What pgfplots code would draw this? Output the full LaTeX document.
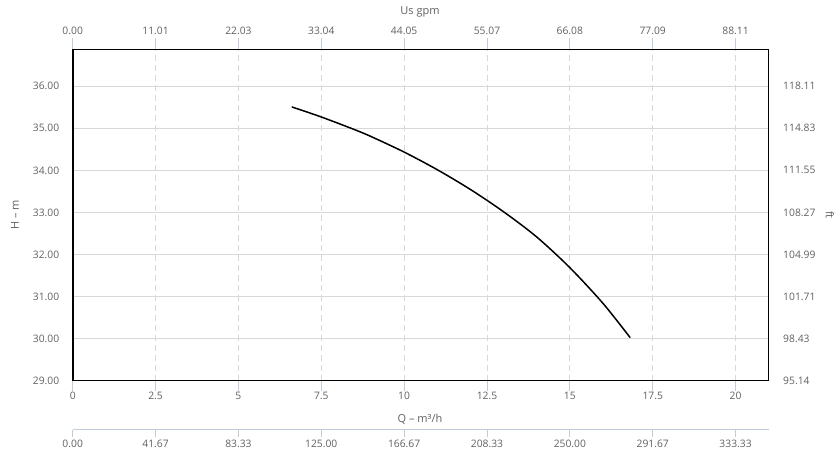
\documentclass[border=0pt]{standalone}
\usepackage{pgfplots}
\pgfplotsset{compat=1.18}
\usepackage{fontspec}
\setmainfont{Open Sans}
\definecolor{txt}{HTML}{606060}
\definecolor{tickc}{HTML}{C0CCDA}
\definecolor{gridc}{HTML}{D8D8D8}
\begin{document}
\begin{tikzpicture}[x=1pt,y=1pt]
\pgfplotsset{
  base/.style={
    scale only axis, width=696pt, height=331.2pt,
    at={(0,0)}, anchor=south west,
    xmin=0, xmax=21, ymin=29, ymax=36.88,
    xtick={0,2.5,5,7.5,10,12.5,15,17.5,20},
    ytick={29,30,31,32,33,34,35,36},
    tick label style={font=\fontsize{10.3}{12}\selectfont, text=txt},
    /pgf/number format/assume math mode=true,
    tick style={tickc, line width=0.8pt},
  }
}
% main axis
\begin{axis}[base,
  axis x line*=bottom, axis y line*=left,
  axis line style={black, line width=1.8pt, -},
  x axis line style={line width=1.3pt},
  xticklabels={0,2.5,5,7.5,10,12.5,15,17.5,20},
  yticklabels={29.00,30.00,31.00,32.00,33.00,34.00,35.00,36.00},
  xtick align=outside, major tick length=10pt,
  ytick style={draw=none},
  yticklabel style={xshift=-10pt},
  xticklabel style={yshift=2pt},
  grid=major,
  x grid style={gridc, dashed, dash pattern=on 6pt off 4pt, line width=0.8pt},
  y grid style={gridc, line width=0.8pt},
]
\addplot[black, line width=1.5pt, smooth] coordinates {
(6.61,35.51) (7.5,35.27) (8.5,34.97) (9,34.805) (10,34.435) (11,34.015)
(12,33.545) (13,33.015) (14,32.415) (15,31.685) (16,30.835) (16.82,30.02)
};
\end{axis}
% top and right axes
\begin{axis}[base,
  axis x line*=top, axis y line*=right,
  axis line style={-},
  x axis line style={tickc, line width=1pt},
  y axis line style={black, line width=1.3pt},
  xticklabels={0.00,11.01,22.03,33.04,44.05,55.07,66.08,77.09,88.11},
  yticklabels={95.14,98.43,101.71,104.99,108.27,111.55,114.83,118.11},
  xtick align=outside, major tick length=11pt,
  ytick style={draw=none},
  yticklabel style={xshift=11pt},
]
\draw[black, line width=1.3pt] (axis cs:0,36.88) -- (axis cs:21,36.88);
\end{axis}
% second bottom axis (l/min)
\begin{axis}[
  scale only axis, width=696pt, height=1pt,
  at={(0,-49pt)}, anchor=south west,
  xmin=0, xmax=21, ymin=0, ymax=1,
  axis x line*=bottom, axis y line=none,
  axis line style={tickc, line width=1pt, -},
  xtick={0,2.5,5,7.5,10,12.5,15,17.5,20},
  xticklabels={0.00,41.67,83.33,125.00,166.67,208.33,250.00,291.67,333.33},
  xtick align=outside, major tick length=7pt,
  tick style={tickc, line width=0.8pt},
  tick label style={font=\fontsize{10.3}{12}\selectfont, text=txt},
  /pgf/number format/assume math mode=true,
]
\end{axis}
\begin{scope}[every node/.style={font=\fontsize{11}{13}\selectfont, text=txt}]
\node[rotate=90] at (-57.7,165.5) {H – m};
\node[rotate=-90] at (757.3,165.5) {ft};
\node at (347.3,368.5) {Us gpm};
\node at (347.3,-38.5) {Q – m³/h};
\end{scope}
\pgfresetboundingbox
\path (-72.7pt,-75.5pt) rectangle (767.3pt,380.5pt);
\end{tikzpicture}
\end{document}
